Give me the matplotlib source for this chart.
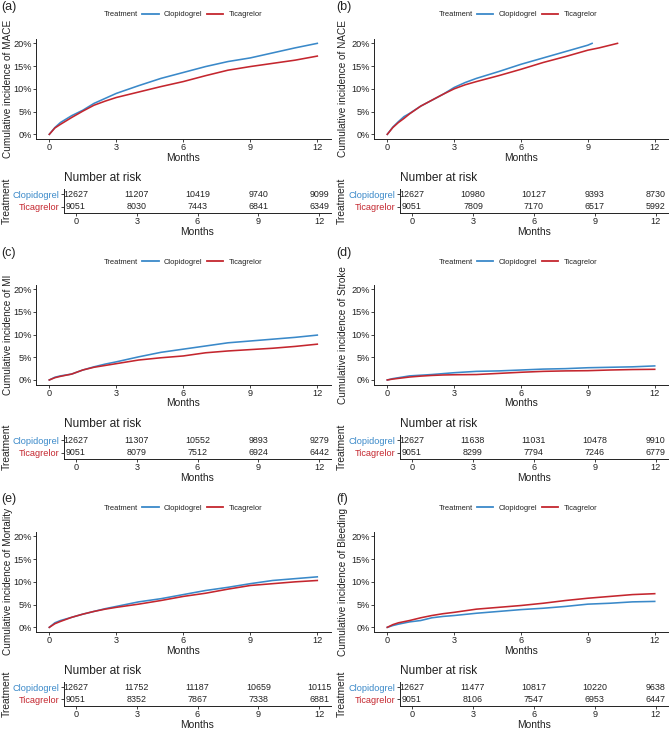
import matplotlib
matplotlib.use("Agg")
import matplotlib.pyplot as plt
from matplotlib.lines import Line2D

plt.rcParams['font.family'] = ['Liberation Sans', 'DejaVu Sans']

W, H = 669, 730
BLUE = '#3A89C9'
RED = '#C4262E'
DARK = '#222222'

# ---------------- data ----------------
panel_labels = ['(a)', '(b)', '(c)', '(d)', '(e)', '(f)']
outcomes = ['MACE', 'NACE', 'MI', 'Stroke', 'Mortality', 'Bleeding']
groups = ['Clopidogrel', 'Ticagrelor']
risk_times = [0, 3, 6, 9, 12]

t_common = [0, 0.25, 0.5, 1, 1.5, 2, 2.5, 3, 4, 5, 6, 7, 8, 9, 10, 11, 12]

# (a) MACE
mace_t_clop = t_common
mace_clop = [0, 1.5, 2.6, 4.1, 5.3, 6.8, 7.9, 9.0, 10.7, 12.3, 13.6, 14.9, 16.0, 16.8, 17.9, 19.0, 20.0]
mace_t_tica = t_common
mace_tica = [0, 1.4, 2.2, 3.7, 5.1, 6.4, 7.3, 8.1, 9.3, 10.5, 11.6, 12.9, 14.1, 14.9, 15.6, 16.3, 17.2]

# (b) NACE
nace_t_clop = [0, 0.25, 0.5, 0.75, 1, 1.5, 2, 2.5, 3, 3.5, 4, 5, 6, 7, 8, 8.5, 9, 9.19]
nace_clop = [0, 1.6, 2.8, 3.9, 4.6, 6.2, 7.5, 8.8, 10.3, 11.4, 12.3, 13.8, 15.4, 16.8, 18.2, 18.9, 19.6, 20.0]
nace_t_tica = [0, 0.25, 0.5, 0.75, 1, 1.5, 2, 2.5, 3, 3.5, 4, 5, 6, 7, 8, 9, 9.5, 10, 10.33]
nace_tica = [0, 1.5, 2.6, 3.5, 4.5, 6.2, 7.5, 8.8, 10.0, 10.9, 11.6, 12.9, 14.3, 15.8, 17.1, 18.5, 19.0, 19.6, 20.0]

# (c) MI
mi_t_clop = t_common
mi_clop = [0, 0.6, 0.9, 1.3, 2.2, 2.9, 3.5, 4.0, 5.1, 6.1, 6.8, 7.5, 8.2, 8.6, 9.0, 9.4, 9.9]
mi_t_tica = t_common
mi_tica = [0, 0.5, 0.8, 1.3, 2.2, 2.8, 3.2, 3.6, 4.4, 4.9, 5.3, 6.0, 6.4, 6.7, 7.0, 7.4, 7.9]

# (d) Stroke
stroke_t_clop = t_common
stroke_clop = [0, 0.3, 0.5, 0.9, 1.05, 1.2, 1.4, 1.6, 1.9, 2.0, 2.2, 2.4, 2.5, 2.7, 2.8, 2.9, 3.1]
stroke_t_tica = t_common
stroke_tica = [0, 0.2, 0.35, 0.65, 0.85, 1.0, 1.1, 1.15, 1.2, 1.45, 1.7, 1.9, 2.0, 2.05, 2.2, 2.3, 2.35]

# (e) Mortality
mort_t_clop = t_common
mort_clop = [0, 1.0, 1.5, 2.2, 2.9, 3.5, 4.1, 4.6, 5.6, 6.3, 7.2, 8.1, 8.8, 9.6, 10.3, 10.7, 11.1]
mort_t_tica = t_common
mort_tica = [0, 0.8, 1.3, 2.2, 2.9, 3.5, 4.0, 4.4, 5.1, 5.9, 6.8, 7.5, 8.4, 9.2, 9.6, 10.0, 10.3]

# (f) Bleeding
bleed_t_clop = t_common
bleed_clop = [0, 0.4, 0.7, 1.2, 1.5, 2.1, 2.4, 2.6, 3.1, 3.5, 3.9, 4.2, 4.6, 5.1, 5.3, 5.6, 5.7]
bleed_t_tica = t_common
bleed_tica = [0, 0.6, 1.0, 1.5, 2.1, 2.6, 3.0, 3.3, 4.0, 4.4, 4.8, 5.3, 5.9, 6.4, 6.8, 7.2, 7.4]

# number at risk
risk_mace_clop = [12627, 11207, 10419, 9740, 9099]
risk_mace_tica = [9051, 8030, 7443, 6841, 6349]
risk_nace_clop = [12627, 10980, 10127, 9393, 8730]
risk_nace_tica = [9051, 7809, 7170, 6517, 5992]
risk_mi_clop = [12627, 11307, 10552, 9893, 9279]
risk_mi_tica = [9051, 8079, 7512, 6924, 6442]
risk_stroke_clop = [12627, 11638, 11031, 10478, 9910]
risk_stroke_tica = [9051, 8299, 7794, 7246, 6779]
risk_mort_clop = [12627, 11752, 11187, 10659, 10115]
risk_mort_tica = [9051, 8352, 7867, 7338, 6881]
risk_bleed_clop = [12627, 11477, 10817, 10220, 9638]
risk_bleed_tica = [9051, 8106, 7547, 6953, 6447]

y_ticks = [0, 5, 10, 15, 20]
y_ticklabels = ['0%', '5%', '10%', '15%', '20%']
x_ticks = [0, 3, 6, 9, 12]

curves = [
    (mace_t_clop, mace_clop, mace_t_tica, mace_tica),
    (nace_t_clop, nace_clop, nace_t_tica, nace_tica),
    (mi_t_clop, mi_clop, mi_t_tica, mi_tica),
    (stroke_t_clop, stroke_clop, stroke_t_tica, stroke_tica),
    (mort_t_clop, mort_clop, mort_t_tica, mort_tica),
    (bleed_t_clop, bleed_clop, bleed_t_tica, bleed_tica),
]
risks = [
    (risk_mace_clop, risk_mace_tica),
    (risk_nace_clop, risk_nace_tica),
    (risk_mi_clop, risk_mi_tica),
    (risk_stroke_clop, risk_stroke_tica),
    (risk_mort_clop, risk_mort_tica),
    (risk_bleed_clop, risk_bleed_tica),
]

# ---------------- layout (pixels) ----------------
plot_lr = [(35.9, 330.7), (373.9, 668.1)]
plot_tb = [(38.8, 138.9), (284.8, 384.5), (531.8, 631.9)]
tab_lr = [(63.9, 331.2), (399.8, 668.0)]
tab_tb = [(189.3, 213.3), (435.3, 459.3), (682.0, 706.0)]
legend_y = [14.7, 262.0, 508.3]
label_y = [7.0, 253.3, 499.0]
col_off = [0, 335]


def rect(l, t, r, b):
    return [l / W, 1 - b / H, (r - l) / W, (b - t) / H]


fig = plt.figure(figsize=(W / 100, H / 100), dpi=100)


def style_axes(ax):
    for s in ['top', 'right']:
        ax.spines[s].set_visible(False)
    for s in ['left', 'bottom']:
        ax.spines[s].set_linewidth(0.7)
        ax.spines[s].set_color('#222222')
    ax.tick_params(length=2.4, width=0.6, color='#222222', labelsize=6.6,
                   labelcolor=DARK, pad=0.6)


for i in range(6):
    r, c = divmod(i, 2)
    l, rr = plot_lr[c]
    t, b = plot_tb[r]
    ax = fig.add_axes(rect(l, t, rr, b))
    tc, vc, tt, vt = curves[i]
    ax.plot(tc, vc, color=BLUE, lw=1.15, solid_joinstyle='round')
    ax.plot(tt, vt, color=RED, lw=1.15, solid_joinstyle='round')
    ax.set_xlim(-0.6, 12.6)
    ax.set_ylim(-1, 21)
    ax.set_xticks(x_ticks)
    ax.set_yticks(y_ticks)
    ax.set_yticklabels(y_ticklabels)
    style_axes(ax)
    ax.set_xlabel('Months', fontsize=7.4, color=DARK, labelpad=0.6)
    fig.text((col_off[c] + 8.5) / W, 1 - ((t + b) / 2) / H,
             'Cumulative incidence of ' + outcomes[i], rotation=90,
             ha='center', va='center', fontsize=7.2, color=DARK)
    fig.text((col_off[c] + 1) / W, 1 - label_y[r] / H, panel_labels[i],
             ha='left', va='center', fontsize=9, color=DARK)

    # legend
    fig.text((col_off[c] + 103.3) / W, 1 - legend_y[r] / H, 'Treatment',
             ha='left', va='center', fontsize=5.4, color=DARK)
    handles = [Line2D([], [], color=BLUE, lw=1.3), Line2D([], [], color=RED, lw=1.3)]
    fig.legend(handles, groups, loc='center left',
               bbox_to_anchor=((col_off[c] + 142.0) / W, 1 - legend_y[r] / H),
               ncol=2, frameon=False, fontsize=5.4, handlelength=2.2,
               handletextpad=0.7, columnspacing=0.6, borderpad=0,
               borderaxespad=0, labelcolor=DARK)

    # risk table
    tl, tr = tab_lr[c]
    tt_, tb_ = tab_tb[r]
    axt = fig.add_axes(rect(tl, tt_, tr, tb_))
    clop_n, tica_n = risks[i]
    for x, n in zip(risk_times, clop_n):
        axt.text(x, 2, str(n), ha='center', va='center', fontsize=6.4, color=DARK)
    for x, n in zip(risk_times, tica_n):
        axt.text(x, 1, str(n), ha='center', va='center', fontsize=6.4, color=DARK)
    axt.set_xlim(-0.6, 12.6)
    axt.set_ylim(0.47, 2.42)
    axt.set_xticks(x_ticks)
    axt.set_yticks([1, 2])
    axt.set_yticklabels(['Ticagrelor', 'Clopidogrel'])
    style_axes(axt)
    for lab, colr in zip(axt.get_yticklabels(), [RED, BLUE]):
        lab.set_color(colr)
    axt.set_xlabel('Months', fontsize=7.4, color=DARK, labelpad=0.6)
    fig.text(tl / W, 1 - (tt_ - 11) / H, 'Number at risk', ha='left', va='center',
             fontsize=8.6, color=DARK)
    fig.text((col_off[c] + 6.5) / W, 1 - ((tt_ + tb_) / 2) / H, 'Treatment',
             rotation=90, ha='center', va='center', fontsize=7.4, color=DARK)

fig.savefig('out.png', dpi=100)
